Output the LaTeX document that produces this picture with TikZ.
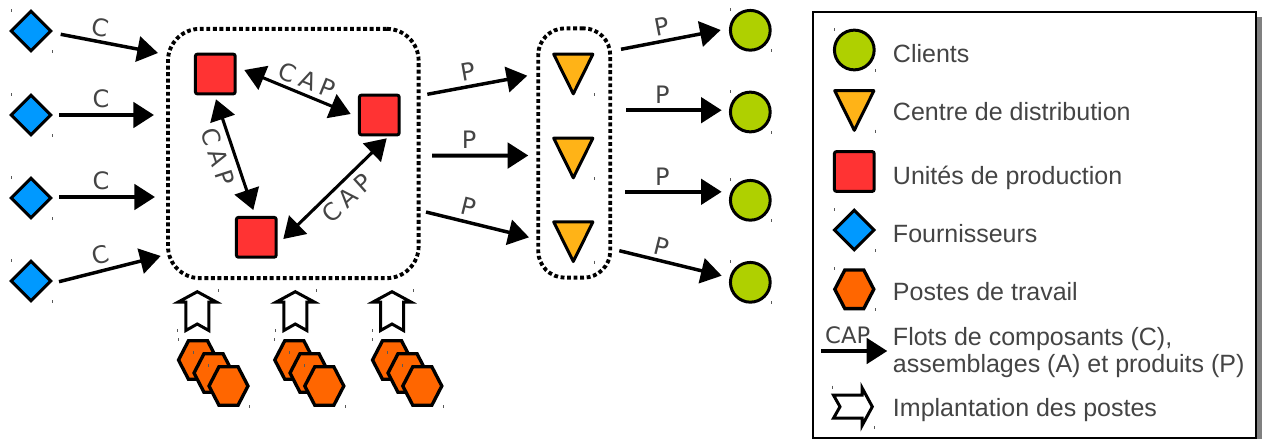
\documentclass[tikz,border=0pt]{standalone}
\usepackage{fontspec}
\usetikzlibrary{arrows.meta,shapes.geometric}
\setmainfont{Liberation Sans}
\newfontfamily\labelfont{DejaVu Sans}
\newfontfamily\spacedfont[LetterSpace=23]{DejaVu Sans}
\definecolor{txt}{HTML}{444444}
\definecolor{cblue}{HTML}{0099FF}
\definecolor{cgreen}{HTML}{AFD000}
\definecolor{cyellow}{HTML}{FFB317}
\definecolor{cred}{HTML}{FF3333}
\definecolor{corange}{HTML}{FF6600}
\tikzset{
  flowtip/.tip={Triangle[length=15.5pt,width=19pt]},
  flow/.style={line width=2.6pt,-flowtip},
  flowh/.style={line width=3pt,-flowtip},
  biflow/.style={line width=2.3pt,flowtip-flowtip},
  symbol/.style={draw=black,line width=2.25pt,inner sep=0pt,outer sep=0pt},
  fourn/.style={symbol,diamond,aspect=1,fill=cblue,minimum width=29.6pt,minimum height=29.6pt},
  client/.style={symbol,circle,fill=cgreen,minimum size=29.8pt},
  usine/.style={symbol,rectangle,rounded corners=1.5pt,fill=cred,minimum size=29.8pt},
  groupe/.style={draw=black,line width=2.9pt,dash pattern=on 2.9pt off 2pt,rectangle,inner sep=0pt},
  tri/.style={draw=black,line width=2.25pt,line join=round,fill=cyellow},
  hexa/.style={draw=black,line width=2.5pt,fill=corange},
  block/.style={draw=black,line width=2.25pt,fill=white},
  flab/.style={font=\labelfont\fontsize{18pt}{18pt}\selectfont,text=txt,inner sep=0pt},
  caplab/.style={font=\spacedfont\fontsize{18pt}{18pt}\selectfont,text=txt,inner sep=0pt},
  legtext/.style={font=\fontsize{18.75pt}{18.75pt}\selectfont,text=txt,anchor=base west,inner sep=0pt},
  legend/.style={draw=black,line width=1.6pt,fill=white,rectangle,inner sep=0pt},
  tickm/.style={draw=black!65,line width=0.6pt}
}
\newcommand{\ticks}[2]{% upper-left and lower-right marks around a symbol centre
  \draw[tickm] (#1-20,#2-22) -- ++(0,3);
  \draw[tickm] (#1+21,#2+19) -- ++(0,3);}
\newcommand{\tickbr}[2]{\draw[tickm] (#1+21,#2+19) -- ++(0,3);}
\newcommand{\triangl}[3]{%
  \coordinate (#1) at (#2,#3);
  \draw[tri] ([shift={(-19.6,-19.8)}]#1) -- ([shift={(19.6,-19.8)}]#1) -- ([shift={(0,19.8)}]#1) -- cycle;
  \tickbr{#2}{#3}}
\newcommand{\hexag}[3]{%
  \coordinate (#1) at (#2,#3);
  \draw[hexa] ([shift={(-19.5,0)}]#1) -- ([shift={(-9.5,-19.3)}]#1) -- ([shift={(9.5,-19.3)}]#1)
    -- ([shift={(19.5,0)}]#1) -- ([shift={(9.5,19.3)}]#1) -- ([shift={(-9.5,19.3)}]#1) -- cycle;
  \ticks{#2}{#3}}
\newcommand{\blockarrow}[4]{%
  \coordinate (#1) at (#2,#3);
  \begin{scope}[shift={(#1)},rotate=#4]
    \draw[block] (0,-19.3) -- (19,-9) -- (11.5,-9) -- (11.5,19.5) -- (0,13) -- (-11.5,19.5) -- (-11.5,-9) -- (-19,-9) -- cycle;
  \end{scope}}
\begin{document}
\begin{tikzpicture}[x=0.75pt,y=-0.75pt]
\useasboundingbox (0,0) rectangle (1262,439);

% groups
\node[groupe,rounded corners=24pt,minimum width=188pt,minimum height=187pt] (hub) at (293.3,153.5) {};
\node[groupe,rounded corners=20pt,minimum width=54pt,minimum height=187pt] (depots) at (574.2,153) {};

% suppliers
\foreach \n/\y in {1/31,2/115,3/198,4/281}{
  \ticks{31}{\y}
  \node[fourn] (f\n) at (31,\y) {};
}
% production units
\node[usine] (ua) at (215.3,74) {};
\node[usine] (ub) at (379.3,115) {};
\node[usine] (uc) at (256.3,237.3) {};
% distribution centres
\triangl{d1}{573.3}{74}
\triangl{d2}{573.3}{158}
\triangl{d3}{573.3}{241.7}
% clients
\foreach \n/\y in {1/30.3,2/112,3/200.3,4/282.3}{
  \ticks{750.3}{\y}
  \node[client] (k\n) at (750.3,\y) {};
}

% connector ends
\coordinate (f1o) at (60.7,34.3); \coordinate (h1i) at (158,53);
\coordinate (f2o) at (59,115);    \coordinate (h2i) at (154,115);
\coordinate (f3o) at (59,197);    \coordinate (h3i) at (155,197);
\coordinate (f4o) at (59,281.7);  \coordinate (h4i) at (160.7,256);
\coordinate (uab) at (244.3,70);  \coordinate (uba) at (350.7,114);
\coordinate (uac) at (216,99.3);  \coordinate (uca) at (253.3,210);
\coordinate (ubc) at (386.7,138.3); \coordinate (ucb) at (283.3,239);
\coordinate (h1o) at (427.3,94.3); \coordinate (d1i) at (527.3,75.7);
\coordinate (h2o) at (432,155.7);  \coordinate (d2i) at (528.3,155.5);
\coordinate (h3o) at (426,212);    \coordinate (d3i) at (529,237.3);
\coordinate (d1o) at (621,49.3);   \coordinate (k1i) at (720.7,30);
\coordinate (d2o) at (626,110.2);  \coordinate (k2i) at (721.7,110.2);
\coordinate (d3o) at (625,191.8);  \coordinate (k3i) at (721.7,191.8);
\coordinate (d4o) at (619.3,250.7);\coordinate (k4i) at (721.7,275.7);

\draw[flow]  (f1o) -- (h1i);
\draw[flowh] (f2o) -- (h2i);
\draw[flowh] (f3o) -- (h3i);
\draw[flow]  (f4o) -- (h4i);
\draw[biflow] (uab) -- (uba);
\draw[biflow] (uac) -- (uca);
\draw[biflow] (ubc) -- (ucb);
\draw[flow]  (h1o) -- (d1i);
\draw[flowh] (h2o) -- (d2i);
\draw[flow]  (h3o) -- (d3i);
\draw[flow]  (d1o) -- (k1i);
\draw[flowh] (d2o) -- (k2i);
\draw[flowh] (d3o) -- (k3i);
\draw[flow]  (d4o) -- (k4i);

% flow labels
\node[flab,rotate=-11] (lc1) at (100.7,28) {C};
\node[flab] (lc2) at (101,99) {C};
\node[flab] (lc3) at (101,181) {C};
\node[flab,rotate=14] (lc4) at (101,255) {C};
\node[caplab,rotate=-22] (lab) at (307,80) {CAP};
\node[caplab,rotate=-72] (lac) at (218,157) {CAP};
\node[caplab,rotate=42] (lbc) at (347,198) {CAP};
\node[flab,rotate=10] (lp1) at (468.3,71.7) {P};
\node[flab] (lp2) at (469,140) {P};
\node[flab,rotate=-14] (lp3) at (469,207) {P};
\node[flab,rotate=11] (lp4) at (661.7,26.7) {P};
\node[flab] (lp5) at (662.3,95) {P};
\node[flab] (lp6) at (662.3,176.7) {P};
\node[flab,rotate=-14] (lp7) at (661.7,246.7) {P};

% implantation arrows and work stations
\foreach \n/\x in {1/197.3,2/295.3,3/392}{
  \blockarrow{b\n}{\x}{311}{0}
  \draw[tickm] (\x+21,290-1) -- ++(0,3);
  \draw[tickm] (\x-20,329) -- ++(0,3);
}
\hexag{p11}{198}{360}   \hexag{p12}{213.5}{373}   \hexag{p13}{228.5}{386}
\hexag{p21}{294.3}{360} \hexag{p22}{309.5}{373}   \hexag{p23}{324.3}{386}
\hexag{p31}{392}{360}   \hexag{p32}{407.5}{373}   \hexag{p33}{422.3}{386}

% legend
\fill[black!50] (818,17) rectangle (1262,439);
\node[legend,minimum width=332.5pt,minimum height=319.3pt] (leg) at (1034.3,224.8) {};
\ticks{854.3}{50}
\node[client] (lg1) at (854.3,50) {};
\triangl{lg2}{854.3}{110.5}
\node[usine] (lg3) at (854.3,171.5) {};
\ticks{854.3}{230}
\node[fourn] (lg4) at (854.3,230) {};
\hexag{lg5}{854.3}{289.3}
\coordinate (lg6a) at (821,351); \coordinate (lg6b) at (887.3,351);
\node[flab,font=\labelfont\fontsize{17pt}{17pt}\selectfont] (lg6l) at (847.7,335) {CAP};
\draw[flowh] (lg6a) -- (lg6b);
\blockarrow{lg7}{853}{406.7}{-90}
\draw[tickm] (832.7,385.5) -- ++(0,3);
\draw[tickm] (874,426) -- ++(0,3);

\node[legtext] (t1) at (892.7,62.3) {Clients};
\node[legtext] (t2) at (892.7,120.3) {Centre de distribution};
\node[legtext] (t3) at (892.7,184) {Unités de production};
\node[legtext] (t4) at (892.7,242.3) {Fournisseurs};
\node[legtext] (t5) at (892.7,300.7) {Postes de travail};
\node[legtext] (t6) at (892.7,345) {Flots de composants (C),};
\node[legtext] (t7) at (892.7,372.7) {assemblages (A) et produits (P)};
\node[legtext] (t8) at (892.7,416.7) {Implantation des postes};
\end{tikzpicture}
\end{document}
